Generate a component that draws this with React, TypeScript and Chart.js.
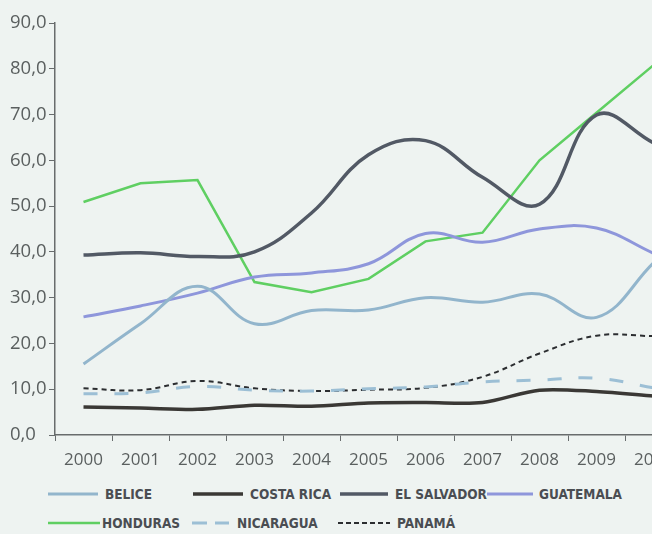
import React, { useEffect, useRef } from "react";
import { Chart, registerables } from "chart.js";

Chart.register(...registerables);

const years = ["2000", "2001", "2002", "2003", "2004", "2005", "2006", "2007", "2008", "2009", "2010"];
const belice = [15.5, 24.3, 32.5, 24.3, 27.2, 27.3, 30.0, 29.0, 30.8, 25.7, 37.6];
const costaRica = [6.1, 5.9, 5.6, 6.5, 6.3, 7.0, 7.1, 7.1, 9.8, 9.5, 8.5];
const elSalvador = [39.3, 39.8, 39.0, 40.0, 48.5, 61.2, 64.3, 56.3, 50.4, 69.9, 63.8];
const guatemala = [25.8, 28.2, 31.0, 34.5, 35.4, 37.4, 44.0, 42.1, 45.0, 45.2, 39.7];
const honduras = [50.9, 55.0, 55.7, 33.4, 31.2, 34.1, 42.3, 44.2, 60.0, 70.4, 80.8];
const nicaragua = [9.0, 9.2, 10.6, 9.8, 9.6, 10.1, 10.5, 11.6, 12.0, 12.4, 10.3];
const panama = [10.2, 9.8, 11.8, 10.2, 9.6, 9.9, 10.3, 12.7, 17.8, 21.7, 21.6];
const yTicks = [0, 10, 20, 30, 40, 50, 60, 70, 80, 90];

type Series = {
  label: string;
  data: number[];
  color: string;
  width: number;
  dash: number[];
  legendDash: number[];
  tension: number;
};

const series: Series[] = [
  { label: "BELICE", data: belice, color: "#92b5cc", width: 3, dash: [], legendDash: [], tension: 0.4 },
  { label: "COSTA RICA", data: costaRica, color: "#3a3835", width: 3.5, dash: [], legendDash: [], tension: 0.3 },
  { label: "EL SALVADOR", data: elSalvador, color: "#525965", width: 3.5, dash: [], legendDash: [], tension: 0.4 },
  { label: "GUATEMALA", data: guatemala, color: "#8e96db", width: 3, dash: [], legendDash: [], tension: 0.4 },
  { label: "HONDURAS", data: honduras, color: "#5fcf62", width: 2.5, dash: [], legendDash: [], tension: 0 },
  { label: "NICARAGUA", data: nicaragua, color: "#9cbfd5", width: 3, dash: [14, 17], legendDash: [15, 8], tension: 0.4 },
  { label: "PANAMÁ", data: panama, color: "#2b2d30", width: 2, dash: [5, 4], legendDash: [5, 3], tension: 0.4 },
];

const legendPos = [
  { x: 48, y: 494, w: 50, tx: 105 },
  { x: 193, y: 494, w: 50, tx: 250 },
  { x: 340, y: 494, w: 48, tx: 395 },
  { x: 487, y: 494, w: 46, tx: 539 },
  { x: 48, y: 523, w: 52, tx: 102 },
  { x: 192, y: 523, w: 37, tx: 237 },
  { x: 338, y: 523, w: 52, tx: 397 },
];

const axisColor = "#686c6d";
const labelColor = "#5a5f5f";

export default function App() {
  const ref = useRef<HTMLCanvasElement | null>(null);
  useEffect(() => {
    if (!ref.current) return;
    const chart = new Chart(ref.current, {
      type: "line",
      data: {
        labels: years,
        datasets: series.map((s) => ({
          label: s.label,
          data: s.data,
          borderColor: s.color,
          backgroundColor: s.color,
          borderWidth: s.width,
          borderDash: s.dash,
          tension: s.tension,
          pointRadius: 0,
          fill: false,
        })),
      },
      options: {
        responsive: false,
        animation: false,
        layout: { padding: { top: 23, right: 0, left: 10, bottom: 0 } },
        plugins: { legend: { display: false }, tooltip: { enabled: false } },
        scales: {
          x: {
            offset: true,
            grid: { offset: true, drawOnChartArea: false, drawTicks: true, tickLength: 6, color: axisColor },
            border: { display: true, color: axisColor, width: 1.5 },
            ticks: {
              color: labelColor,
              padding: 9,
              maxRotation: 0,
              autoSkip: false,
              font: { family: "'Open Sans', sans-serif", size: 17 },
            },
            afterFit: (scale: any) => {
              scale.height = 45;
            },
          },
          y: {
            min: 0,
            max: 90,
            afterBuildTicks: (scale: any) => {
              scale.ticks = yTicks.map((v) => ({ value: v }));
            },
            grid: { drawOnChartArea: false, drawTicks: true, tickLength: 6, color: axisColor },
            border: { display: true, color: axisColor, width: 1.5 },
            ticks: {
              color: labelColor,
              padding: 4,
              crossAlign: "far",
              font: { family: "'Open Sans', sans-serif", size: 18.5 },
              callback: (v: any) => Number(v).toFixed(1).replace(".", ","),
            },
            afterFit: (scale: any) => {
              scale.width = 45;
            },
          },
        },
      },
    });
    return () => chart.destroy();
  }, []);

  return (
    <div
      style={{
        position: "fixed",
        left: 0,
        top: 0,
        width: 652,
        height: 534,
        overflow: "hidden",
        background: "#eef3f1",
      }}
    >
      <canvas ref={ref} width={682} height={480} style={{ position: "absolute", left: 0, top: 0 }} />
      {series.map((s, i) => {
        const p = legendPos[i];
        return (
          <React.Fragment key={s.label}>
            <svg
              width={p.w}
              height={8}
              style={{ position: "absolute", left: p.x, top: p.y - 4 }}
            >
              <line
                x1={0}
                y1={4}
                x2={p.w}
                y2={4}
                stroke={s.color}
                strokeWidth={s.width}
                strokeDasharray={s.legendDash.length ? s.legendDash.join(" ") : undefined}
              />
            </svg>
            <div
              style={{
                position: "absolute",
                left: p.tx,
                top: p.y - 9,
                height: 18,
                lineHeight: "18px",
                fontFamily: "'Liberation Sans Narrow', 'DejaVu Sans Condensed', sans-serif",
                fontStretch: "condensed",
                fontWeight: "bold",
                fontSize: 13.5,
                color: "#4a4d52",
                whiteSpace: "nowrap",
              }}
            >
              {s.label}
            </div>
          </React.Fragment>
        );
      })}
    </div>
  );
}
